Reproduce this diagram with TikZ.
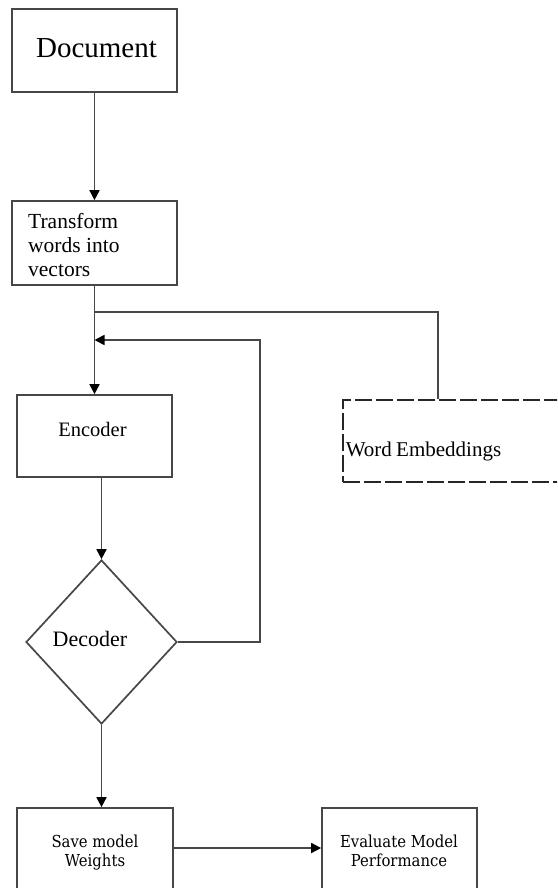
\documentclass[tikz,border=0pt]{standalone}
\usepackage{fontspec}
\setmainfont{Liberation Serif}
\newfontfamily\slab[FakeStretch=0.9]{DejaVu Serif}
\usetikzlibrary{arrows.meta,shapes.geometric}
\begin{document}
\begin{tikzpicture}[x=1pt,y=-1pt,
  line/.style={draw=black!72, line width=1.7pt},
  box/.style={line, rectangle, inner sep=0pt, fill=white},
  arr/.style={line, -{Triangle[length=10pt,width=10pt,color=black]}},
  lbl/.style={inner sep=0pt, text=black}]
\useasboundingbox (0,0) rectangle (557,888);
\clip (0,0) rectangle (557,888);
% boxes
\node[box, minimum width=165pt, minimum height=83pt] (doc) at (94.5,50.5) {};
\node[box, minimum width=165pt, minimum height=84pt] (tr) at (94.5,243) {};
\node[box, minimum width=155pt, minimum height=82pt] (enc) at (94.5,436) {};
\node[line, diamond, inner sep=0pt, minimum width=151pt, minimum height=164pt] (dec) at (101.5,642) {};
\node[box, draw=black!85, line width=1.4pt, dash pattern=on 17pt off 4pt, minimum width=257pt, minimum height=82pt] (we) at (471.5,441) {};
\node[box, minimum width=156pt, minimum height=132pt] (save) at (95,874) {};
\node[box, minimum width=155pt, minimum height=132pt] (ev) at (399.5,874) {};
% labels
\node[lbl, anchor=base, font=\fontsize{29}{34}\selectfont] (tdoc) at (96.5,57.3) {Document};
\node[lbl, anchor=base west, align=left, font=\fontsize{21.5}{23.8}\selectfont] (ttr) at (28,276) {Transform\\words into\\vectors};
\node[lbl, anchor=base, font=\fontsize{20.5}{24}\selectfont] (tenc) at (92.5,436.7) {Encoder};
\node[lbl, anchor=base, font=\fontsize{22}{26}\selectfont] (tdec) at (90,646.7) {Decoder};
\node[lbl, anchor=base, font=\fontsize{21}{25}\selectfont] (twe) at (423.5,456) {Word\kern-1pt\ Embeddings};
\node[lbl, anchor=base, align=center, font=\slab\fontsize{16.5}{19.4}\selectfont] (tsave) at (95,866.7) {Save model\\Weights};
\node[lbl, anchor=base, align=center, font=\slab\fontsize{16.5}{19.4}\selectfont] (tev) at (399,866.7) {Evaluate Model\\Performance};
% connectors
\coordinate (b1) at (94.5,312);
\coordinate (lp) at (260,340);
\draw[arr] (doc.south) -- (tr.north);
\draw[arr] (tr.south) -- (tr.south |- enc.north);
\draw[line] (b1) -| ([xshift=-33.5pt]we.north);
\draw[arr] (dec.east) -| (lp) -- (lp -| tr.south);
\draw[arr] (enc.south -| dec.north) -- (dec.north);
\draw[arr] (dec.south) -- (dec.south |- save.north);
\draw[arr] ([yshift=26pt]save.east) -- ([yshift=26pt]save.east -| ev.west);
\end{tikzpicture}
\end{document}
